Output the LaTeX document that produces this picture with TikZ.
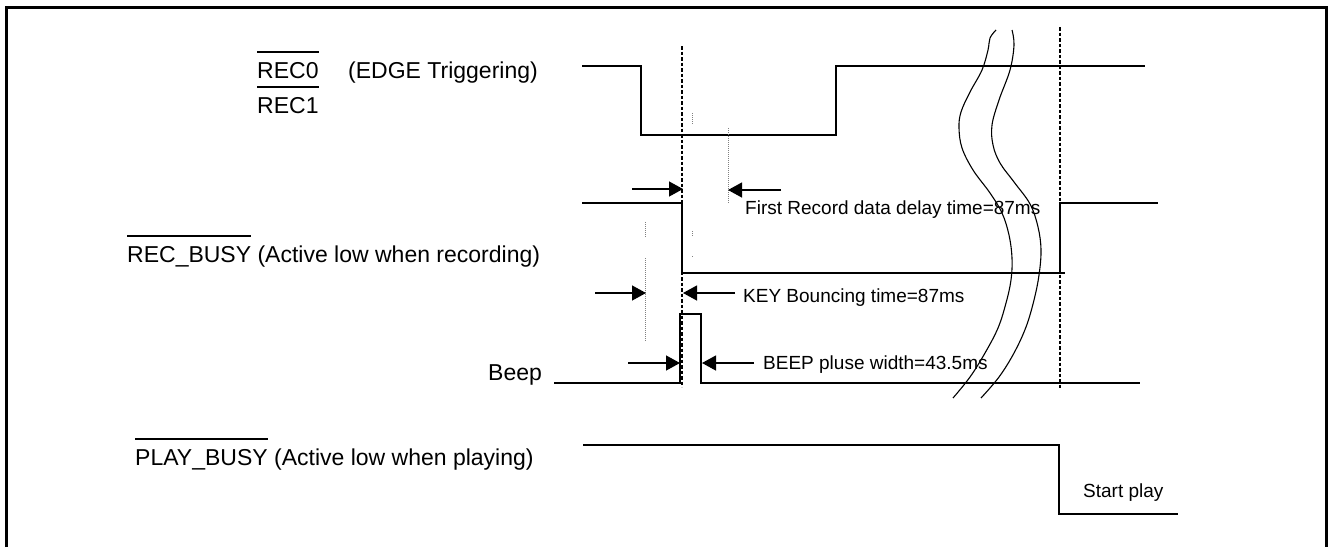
\documentclass[tikz,border=0pt]{standalone}
\usepackage{fontspec}
\setmainfont{Liberation Sans}
\usetikzlibrary{arrows.meta}
\newsavebox\myovbox
\newcommand\myovl[1]{\sbox\myovbox{#1}\rlap{\rule[25.4pt]{\wd\myovbox}{1.2pt}}\usebox\myovbox}
\begin{document}
\begin{tikzpicture}[x=1pt,y=-1pt,
  wave/.style={line width=1.5pt},
  dashline/.style={line width=1.5pt, dash pattern=on 3.5pt off 2pt},
  gdot/.style={gray, line width=1pt, dash pattern=on 1pt off 1pt},
  dimarrow/.style={line width=1.3pt, -{Triangle[length=14pt,width=15pt]}},
  lbl/.style={inner sep=0pt, anchor=base west, font=\fontsize{23}{27}\selectfont},
  note/.style={inner sep=0pt, anchor=base west, font=\fontsize{19}{23}\selectfont},
  brk/.style={line width=1.1pt}]
\useasboundingbox (0,0) rectangle (1329,547);
% frame
\draw[line width=3pt] (6,547) -- (6,7) -- (1326,7) -- (1326,547);
% labels
\node[lbl] (rec0) at (257,78) {\myovl{REC0}};
\node[lbl] (rec1) at (257,113) {\myovl{REC1}};
\node[lbl] (edge) at (348,78) {(EDGE Triggering)};
\node[lbl] (recbusy) at (127,262) {\myovl{REC\_BUSY} (Active low when recording)};
\node[lbl] (beep) at (488,380) {Beep};
\node[lbl] (playbusy) at (135,465) {\myovl{PLAY\_BUSY} (Active low when playing)};
% notes
\node[note] (n1) at (745,214) {First Record data delay time=87ms};
\node[note] (n2) at (743,302) {KEY Bouncing time=87ms};
\node[note] (n3) at (763,369) {BEEP pluse width=43.5ms};
\node[note] (n4) at (1083,497) {Start play};
% waveforms
\draw[wave] (582,66) -- (641,66) -- (641,135) -- (836,135) -- (836,66) -- (1145,66);
\draw[wave] (582,203) -- (682,203) -- (682,273) -- (1065,273);
\draw[wave] (1060,273) -- (1060,203) -- (1158,203);
\draw[wave] (554,383) -- (680,383) -- (680,314) -- (701,314) -- (701,383) -- (1140,383);
\draw[wave] (583,445) -- (1059,445) -- (1059,514) -- (1178,514);
% dashed markers
\draw[dashline] (682,46) -- (682,387);
\draw[dashline] (1060,27) -- (1060,388);
% gray dotted guides
\draw[gdot] (728,128) -- (728,204);
\draw[gdot] (645,222) -- (645,237);
\draw[gdot] (645,258) -- (645,342);
\draw[gdot] (692,113) -- (692,125);
\draw[gdot] (692,231) -- (692,236);
\draw[gdot] (692,256) -- (692,258);
% dimension arrows
\coordinate (a1s) at (632,189); \coordinate (a1e) at (683,189);
\coordinate (a2s) at (781,190); \coordinate (a2e) at (728,190);
\coordinate (b1s) at (595,293); \coordinate (b1e) at (646,293);
\coordinate (b2s) at (735,293); \coordinate (b2e) at (683,293);
\coordinate (c1s) at (628,363); \coordinate (c1e) at (680,363);
\coordinate (c2s) at (754,363); \coordinate (c2e) at (702,363);
\draw[dimarrow] (a1s) -- (a1e);
\draw[dimarrow] (a2s) -- (a2e);
\draw[dimarrow] (b1s) -- (b1e);
\draw[dimarrow] (b2s) -- (b2e);
\draw[dimarrow] (c1s) -- (c1e);
\draw[dimarrow] (c2s) -- (c2e);
% break curves
\draw[brk] plot[smooth, tension=0.6] coordinates {(996,30) (990,38) (988,50) (982,70) (970,92) (961,112) (959,128) (962,148) (973,170) (990,193) (1002,213) (1009,235) (1012,258) (1011,280) (1006,303) (998,328) (985,353) (970,377) (953,398)};
\draw[brk] plot[smooth, tension=0.6] coordinates {(1012,30) (1014,45) (1010,70) (999,100) (992,125) (993,145) (1000,163) (1014,182) (1030,204) (1038,227) (1041,250) (1039,275) (1034,300) (1026,327) (1014,353) (999,377) (981,398)};
\end{tikzpicture}
\end{document}
